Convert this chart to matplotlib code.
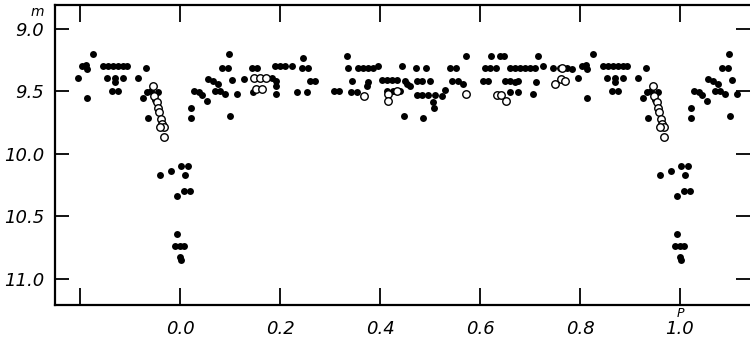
import numpy as np
import matplotlib
matplotlib.use("Agg")
import matplotlib.pyplot as plt
import matplotlib.transforms as mtransforms

# phase / magnitude readings (filled dots)
phase_filled = [-0.174, -0.196, -0.188, -0.186, -0.204, -0.186, -0.154, -0.144, -0.134, -0.124,
                -0.114, -0.106, -0.146, -0.130, -0.114, -0.130, -0.136, -0.124, -0.084, -0.068,
                -0.074, -0.066, -0.064, -0.044, -0.050, -0.058,
                -0.040, -0.018, 0.002, 0.016, 0.010, -0.006, 0.008, 0.020, -0.006, -0.010,
                0.000, 0.008, 0.000, 0.002,
                0.022, 0.022, 0.038, 0.028, 0.044, 0.054, 0.056, 0.066, 0.076, 0.070,
                0.080, 0.090, 0.084, 0.096, 0.098, 0.104, 0.114, 0.100, 0.128, 0.144,
                0.154, 0.146, 0.192, 0.190, 0.200, 0.210, 0.224, 0.192, 0.192, 0.184,
                0.246, 0.244, 0.256, 0.260, 0.270, 0.234, 0.254, 0.308, 0.318, 0.334,
                0.336, 0.344, 0.342, 0.354, 0.356, 0.366, 0.376, 0.386, 0.396, 0.376,
                0.374, 0.404, 0.414, 0.424, 0.434, 0.414, 0.426, 0.440, 0.444, 0.450,
                0.454, 0.460, 0.472, 0.492, 0.474, 0.484, 0.500, 0.474, 0.484, 0.496,
                0.510, 0.506, 0.508, 0.448, 0.486, 0.524, 0.530, 0.544, 0.556, 0.566,
                0.540, 0.552, 0.572, 0.622, 0.640, 0.648, 0.610, 0.620, 0.632, 0.606,
                0.616, 0.660, 0.670, 0.680, 0.690, 0.700, 0.710, 0.726, 0.716, 0.650,
                0.660, 0.670, 0.676, 0.712, 0.660, 0.676, 0.706, 0.746, 0.760, 0.774,
                0.784]
mag_filled = [9.20, 9.30, 9.29, 9.32, 9.39, 9.55, 9.30, 9.30, 9.30, 9.30,
              9.30, 9.30, 9.39, 9.39, 9.39, 9.43, 9.50, 9.50, 9.39, 9.31,
              9.55, 9.51, 9.71, 9.51, 9.57, 9.50,
              10.17, 10.14, 10.10, 10.10, 10.17, 10.34, 10.30, 10.30, 10.64, 10.74,
              10.74, 10.74, 10.83, 10.85,
              9.63, 9.71, 9.51, 9.50, 9.53, 9.58, 9.40, 9.42, 9.44, 9.50,
              9.50, 9.52, 9.31, 9.31, 9.20, 9.41, 9.52, 9.70, 9.40, 9.31,
              9.31, 9.51, 9.52, 9.30, 9.30, 9.30, 9.30, 9.42, 9.46, 9.39,
              9.23, 9.31, 9.31, 9.42, 9.42, 9.51, 9.51, 9.50, 9.50, 9.22,
              9.31, 9.42, 9.51, 9.51, 9.31, 9.31, 9.31, 9.31, 9.30, 9.43,
              9.46, 9.41, 9.41, 9.41, 9.41, 9.50, 9.50, 9.50, 9.30, 9.42,
              9.44, 9.46, 9.31, 9.31, 9.42, 9.42, 9.42, 9.53, 9.53, 9.53,
              9.53, 9.59, 9.63, 9.70, 9.71, 9.54, 9.49, 9.42, 9.42, 9.44,
              9.31, 9.31, 9.22, 9.22, 9.22, 9.22, 9.31, 9.31, 9.31, 9.42,
              9.42, 9.31, 9.31, 9.31, 9.31, 9.31, 9.31, 9.30, 9.22, 9.42,
              9.42, 9.43, 9.42, 9.43, 9.51, 9.51, 9.52, 9.31, 9.31, 9.31,
              9.32]

# open circles
phase_open = [-0.054, -0.052, -0.046, -0.044, -0.042, -0.038, -0.036, -0.032, -0.040, -0.032,
              0.148, 0.160, 0.172, 0.152, 0.164, 0.368, 0.416, 0.416, 0.434, 0.572,
              0.634, 0.642, 0.652, 0.764, 0.750, 0.762, 0.770]
mag_open = [9.46, 9.54, 9.59, 9.63, 9.67, 9.72, 9.76, 9.79, 9.79, 9.87,
            9.39, 9.39, 9.39, 9.48, 9.48, 9.54, 9.52, 9.58, 9.50, 9.52,
            9.53, 9.53, 9.58, 9.31, 9.44, 9.40, 9.42]

xtick_vals = [-0.2, 0.0, 0.2, 0.4, 0.6, 0.8, 1.0]
xtick_labels = ['', '0.0', '0.2', '0.4', '0.6', '0.8', '1.0']
ytick_vals = [9.0, 9.5, 10.0, 10.5, 11.0]
ytick_labels = ['9.0', '9.5', '10.0', '10.5', '11.0']

# repeat the start of the cycle after phase 1
wrap = 0.12
pf = np.array(phase_filled); mf = np.array(mag_filled)
po = np.array(phase_open); mo = np.array(mag_open)
pf_all = np.concatenate([pf, pf[pf < wrap] + 1]); mf_all = np.concatenate([mf, mf[pf < wrap]])
po_all = np.concatenate([po, po[po < wrap] + 1]); mo_all = np.concatenate([mo, mo[po < wrap]])

fig = plt.figure(figsize=(7.5, 3.39), dpi=100)
ax = fig.add_axes([55/750, 34/339, 695/750, 300/339])

ax.plot(pf_all, mf_all, 'o', color='black', markersize=5.0, markeredgewidth=0)
ax.plot(po_all, mo_all, 'o', markerfacecolor='white', markeredgecolor='black',
        markersize=5.4, markeredgewidth=1.0)

ax.set_xlim(-0.25, 1.14)
ax.set_ylim(11.21, 8.81)

ax.set_xticks(xtick_vals)
ax.set_xticklabels(xtick_labels, fontstyle='italic', fontsize=13)
ax.set_yticks(ytick_vals)
ax.set_yticklabels(ytick_labels, fontstyle='italic', fontsize=13)
ax.tick_params(axis='x', direction='in', length=12, width=1.3, pad=11, top=True)
ax.tick_params(axis='y', direction='in', length=10, width=1.3, pad=8, right=True)

for s in ['left', 'top', 'bottom']:
    ax.spines[s].set_linewidth(1.6)
ax.spines['right'].set_visible(False)

fig.text(37/750, 1 - 12/339, 'm', fontstyle='italic', fontsize=10, ha='center', va='center')
trans = mtransforms.blended_transform_factory(ax.transData, ax.transAxes)
ax.text(1.0, -0.028, 'P', transform=trans, fontstyle='italic', fontsize=9,
        ha='center', va='center')

fig.savefig('out.png', dpi=100)
